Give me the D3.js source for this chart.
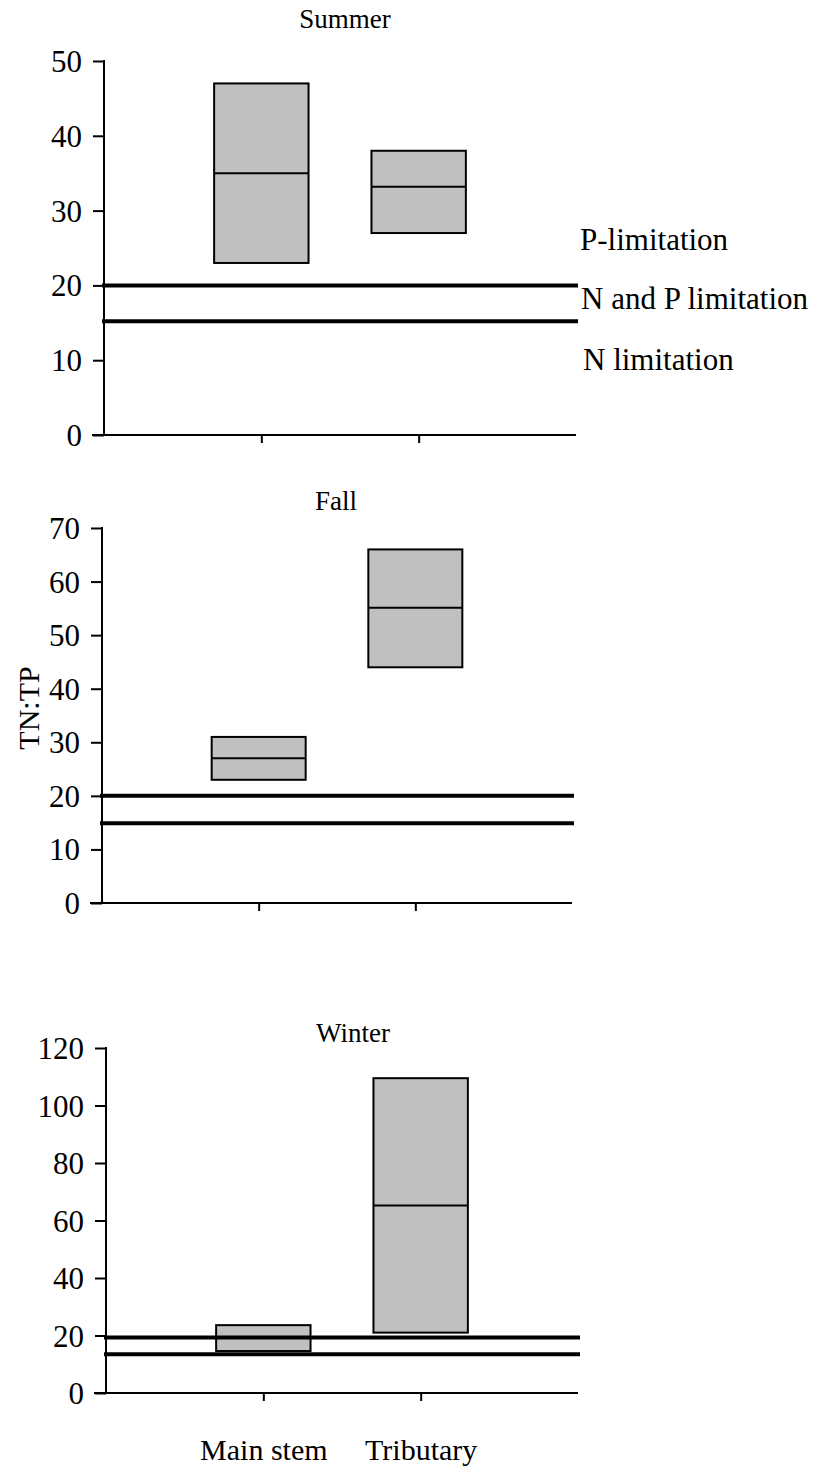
<!DOCTYPE html>
<html>
<head>
<meta charset="utf-8">
<script src="https://cdn.jsdelivr.net/npm/d3@7"></script>
<style>
  html, body { margin: 0; padding: 0; background: #fff; }
</style>
</head>
<body>
<svg id="chart" width="815" height="1477"></svg>
<script>
// ---- data ----
const categories = ["Main stem", "Tributary"];
const seasons = ["Summer", "Fall", "Winter"];
// box low / median / high per season, per category
const lowValues    = [[23, 27], [23, 44], [14.6, 21]];
const medianValues = [[35, 33.2], [27, 55.1], [null, 65.2]];
const highValues   = [[47, 38], [31, 66], [23.6, 109.5]];
// threshold lines per season (upper, lower)
const upperThreshold = [20, 20, 19.3];
const lowerThreshold = [15.2, 14.9, 13.5];
const yMax = [50, 70, 120];
const yTickStep = [10, 10, 20];
const zoneLabels = ["P-limitation", "N and P limitation", "N limitation"];
const yAxisTitle = "TN:TP";

// ---- layout ----
const FONT = "'Liberation Serif', 'Times New Roman', serif";
const panels = [
  { x0: 104, x1: 576, yTop: 61,   yBot: 435,  titleX: 345, titleY: 28 },
  { x0: 102, x1: 572, yTop: 528,  yBot: 903,  titleX: 336, titleY: 510 },
  { x0: 106, x1: 578, yTop: 1048, yBot: 1393, titleX: 353, titleY: 1042 }
];

const svg = d3.select("#chart");

seasons.forEach((season, i) => {
  const p = panels[i];
  const g = svg.append("g");
  const x = d3.scalePoint().domain(categories).range([p.x0, p.x1]).padding(1);
  const y = d3.scaleLinear().domain([0, yMax[i]]).range([p.yBot, p.yTop]);
  const boxW = (p.x1 - p.x0) * 0.2;

  // title
  g.append("text").attr("x", p.titleX).attr("y", p.titleY)
    .attr("text-anchor", "middle").attr("font-family", FONT)
    .attr("font-size", 27).text(season);

  // y axis
  const yAxis = d3.axisLeft(y)
    .tickValues(d3.range(0, yMax[i] + 0.001, yTickStep[i]))
    .tickSize(11).tickPadding(11).tickFormat(d3.format("d"));
  const ya = g.append("g").attr("transform", `translate(${p.x0},0)`).call(yAxis);
  ya.attr("font-family", FONT).attr("font-size", 31);
  ya.select(".domain").remove();
  ya.selectAll(".tick line").attr("stroke", "#000").attr("stroke-width", 2);
  ya.selectAll(".tick text").attr("fill", "#000").attr("dy", "0.34em");
  g.append("line").attr("x1", p.x0).attr("x2", p.x0)
    .attr("y1", y(yMax[i]) - 1).attr("y2", y(0))
    .attr("stroke", "#000").attr("stroke-width", 2);

  // x axis
  const xAxis = d3.axisBottom(x).tickSize(8).tickFormat(i === 2 ? (d => d) : (() => ""));
  const xa = g.append("g").attr("transform", `translate(0,${y(0)})`).call(xAxis);
  xa.attr("font-family", FONT).attr("font-size", 30);
  xa.select(".domain").remove();
  xa.selectAll(".tick line").attr("stroke", "#000").attr("stroke-width", 2);
  xa.selectAll(".tick text").attr("fill", "#000").attr("y", 67).attr("dy", 0);
  g.append("line").attr("x1", p.x0 - 12).attr("x2", p.x1)
    .attr("y1", y(0)).attr("y2", y(0))
    .attr("stroke", "#000").attr("stroke-width", 2);

  // boxes
  categories.forEach((c, j) => {
    const cx = x(c);
    g.append("rect")
      .attr("x", cx - boxW / 2).attr("width", boxW)
      .attr("y", y(highValues[i][j])).attr("height", y(lowValues[i][j]) - y(highValues[i][j]))
      .attr("fill", "#c0c0c0").attr("stroke", "#000").attr("stroke-width", 2);
    if (medianValues[i][j] != null) {
      g.append("line")
        .attr("x1", cx - boxW / 2).attr("x2", cx + boxW / 2)
        .attr("y1", y(medianValues[i][j])).attr("y2", y(medianValues[i][j]))
        .attr("stroke", "#000").attr("stroke-width", 2);
    }
  });

  // threshold lines
  [upperThreshold[i], lowerThreshold[i]].forEach(v => {
    g.append("line")
      .attr("x1", p.x0 - 2).attr("x2", p.x1 + 2)
      .attr("y1", y(v)).attr("y2", y(v))
      .attr("stroke", "#000").attr("stroke-width", 4);
  });

  // zone labels (summer only)
  if (i === 0) {
    const ly = [y(24.7), y(16.8), y(8.7)];
    const lx = [580, 581, 583];
    zoneLabels.forEach((t, k) => {
      g.append("text").attr("x", lx[k]).attr("y", ly[k])
        .attr("font-family", FONT).attr("font-size", 31).text(t);
    });
  }
});

// y axis title
svg.append("text")
  .attr("transform", "translate(39,708) rotate(-90)")
  .attr("text-anchor", "middle")
  .attr("font-family", FONT)
  .attr("font-size", 30)
  .text(yAxisTitle);
</script>
</body>
</html>
